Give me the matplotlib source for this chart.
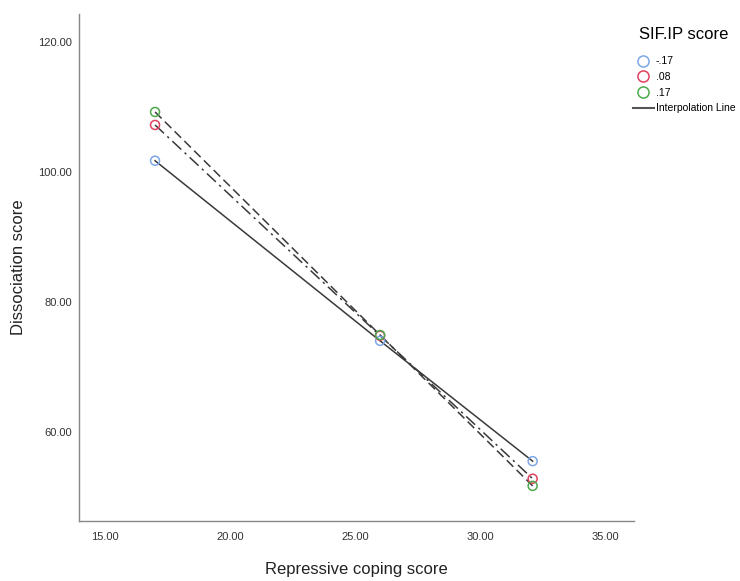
import matplotlib.pyplot as plt
from matplotlib.lines import Line2D

plt.rcParams['font.family'] = ['Liberation Sans', 'DejaVu Sans']

# data
coping = [17.0, 26.0, 32.1]
groups = ['-.17', '.08', '.17']
dissociation = {
    '-.17': [101.7, 74.0, 55.5],
    '.08': [107.2, 74.8, 52.8],
    '.17': [109.2, 74.9, 51.7],
}
colors = {'-.17': '#7da7e8', '.08': '#e0415e', '.17': '#4ea84e'}
styles = {'-.17': '-', '.08': (0, (8, 3, 1.5, 3)), '.17': (0, (6, 3))}

fig = plt.figure(figsize=(7.4, 5.81), dpi=100)
ax = fig.add_axes([0.1068, 0.1033, 0.7502, 0.873])

for g in groups:
    ax.plot(coping, dissociation[g], color='#3a3a3a', lw=1.1, ls=styles[g], zorder=2)
    ax.scatter(coping, dissociation[g], s=42, facecolors='none',
               edgecolors=colors[g], linewidths=1.1, zorder=3)

ax.set_xlim(13.96, 36.16)
ax.set_ylim(46.3, 124.3)
ax.set_xticks([15, 20, 25, 30, 35])
ax.set_yticks([60, 80, 100, 120])
ax.xaxis.set_major_formatter(lambda v, p: f'{v:.2f}')
ax.yaxis.set_major_formatter(lambda v, p: f'{v:.2f}')
ax.tick_params(length=0, labelsize=8, colors='#333333')
ax.tick_params(axis='x', pad=8)
ax.tick_params(axis='y', pad=5)

for s in ['top', 'right']:
    ax.spines[s].set_visible(False)
for s in ['left', 'bottom']:
    ax.spines[s].set_color('#888888')
    ax.spines[s].set_linewidth(1.0)

ax.set_xlabel('Repressive coping score', fontsize=12, color='#222222', labelpad=14)
ax.set_ylabel('Dissociation score', fontsize=12, color='#222222')
ax.yaxis.set_label_coords(-0.095, 0.5)

handles = [Line2D([], [], ls='none', marker='o', markersize=8, markerfacecolor='none',
                  markeredgecolor=colors[g], markeredgewidth=1.1) for g in groups]
handles.append(Line2D([], [], color='#555555', lw=1.5))
labels = groups + ['Interpolation Line']
leg = fig.legend(handles, labels, title='SIF.IP score', loc='upper left',
                 bbox_to_anchor=(0.855, 0.953), frameon=False, fontsize=7.5,
                 title_fontsize=12, handlelength=2.0, handletextpad=0.2,
                 labelspacing=0.55, borderaxespad=0, borderpad=0)
leg._legend_box.sep = 10

fig.savefig('out.png', dpi=100)
